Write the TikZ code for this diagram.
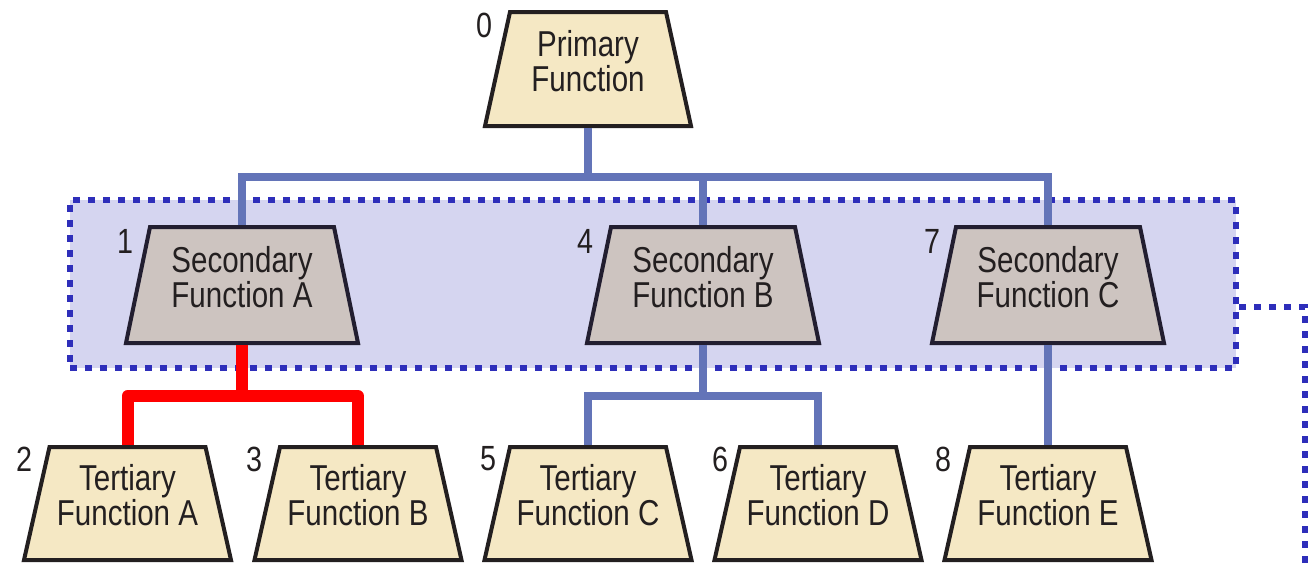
\documentclass[tikz,border=0pt]{standalone}
\usepackage{fontspec}
\setmainfont{Liberation Sans}[FakeStretch=0.82]
\usetikzlibrary{calc}
\definecolor{cream}{HTML}{F5E8C4}
\definecolor{taupe}{HTML}{CDC4C0}
\definecolor{lav}{HTML}{D5D5F0}
\definecolor{linkblue}{HTML}{6374B8}
\definecolor{dotblue}{HTML}{2E2EBA}
\definecolor{ink}{HTML}{231F20}
\definecolor{ink2}{HTML}{221E30}
\tikzset{
  frame/.style={rectangle, inner sep=0, outer sep=2},
  lightpaint/.style={line width=4, draw=ink, fill=cream},
  greypaint/.style={line width=4, draw=ink2, fill=taupe},
  fntext/.style={font=\fontsize{36}{33}\selectfont, align=center, text=ink, inner sep=0},
  num/.style={font=\fontsize{35}{35}\selectfont, text=ink, inner sep=0},
  link/.style={draw=linkblue, line width=8},
  hot/.style={draw=red, line width=12, line join=round},
  dotline/.style={draw=dotblue, line width=6, dash pattern=on 7pt off 8pt}
}
% trapezoid function box: #1 paint, #2 name, #3 centre, #4 bottom width, #5 height, #6 inset of top edge
\newcommand\fnshape[6]{%
  \node[frame, minimum width=#4+4, minimum height=#5+4] (#2) at #3 {};
  \draw[#1] ($(#2.south west)+(2,-2)$) -- ($(#2.south east)+(-2,-2)$)
    -- ($(#2.north east)+(-2-#6,2)$) -- ($(#2.north west)+(2+#6,2)$) -- cycle;
}
\begin{document}
\begin{tikzpicture}[x=1pt,y=-1pt]
\useasboundingbox (0,0) rectangle (1308,562);

% group frame around the secondary functions
\node[dotline, fill=lav, minimum width=1166, minimum height=168, inner sep=0] (grp) at (653,284) {};
\coordinate (tr) at (1305,307);
\coordinate (tend) at (1305,580);
\draw[dotline] ($(grp.east)+(0,23)$) -- (tr) -- (tend);

% primary
\fnshape{lightpaint}{p}{(588,69)}{202}{110}{25}
\node[fntext] (pt) at (588,61) {Primary\\Function};
\node[num] (n0) at (484,25) {0};

% secondary
\fnshape{greypaint}{sa}{(242,285)}{228}{112}{24}
\fnshape{greypaint}{sb}{(703,285)}{228}{112}{24}
\fnshape{greypaint}{sc}{(1048,285)}{228}{112}{24}
\node[fntext] (sat) at (242,277) {Secondary\\Function A};
\node[fntext] (sbt) at (703,277) {Secondary\\Function B};
\node[fntext] (sct) at (1048,277) {Secondary\\Function C};
\node[num] (n1) at (125,241) {1};
\node[num] (n4) at (585,241) {4};
\node[num] (n7) at (932,241) {7};

% tertiary
\fnshape{lightpaint}{ta}{(127.5,503.5)}{203}{109}{25.5}
\fnshape{lightpaint}{tb}{(358,503.5)}{203}{109}{25.5}
\fnshape{lightpaint}{tc}{(588,503.5)}{203}{109}{25.5}
\fnshape{lightpaint}{td}{(818,503.5)}{203}{109}{25.5}
\fnshape{lightpaint}{te}{(1048,503.5)}{203}{109}{25.5}
\node[fntext] (tat) at (127.5,495) {Tertiary\\Function A};
\node[fntext] (tbt) at (358,495) {Tertiary\\Function B};
\node[fntext] (tct) at (588,495) {Tertiary\\Function C};
\node[fntext] (tdt) at (818,495) {Tertiary\\Function D};
\node[fntext] (tet) at (1048,495) {Tertiary\\Function E};
\node[num] (n2) at (24,459) {2};
\node[num] (n3) at (254,459) {3};
\node[num] (n5) at (488,459) {5};
\node[num] (n6) at (720,459) {6};
\node[num] (n8) at (943,459) {8};

% connectors
\coordinate (bus) at (588,177);
\draw[link] (p.south) -- (bus);
\draw[link] (sa.north) |- (bus) -| (sc.north);
\draw[link] (sb.north) -- (sb.north |- bus);

\coordinate (ja) at (242,396);
\draw[hot] (ta.north) |- (ja) -| (tb.north);
\draw[hot] (sa.south) -- (ja);

\coordinate (jb) at (703,396);
\draw[link] (tc.north) |- (jb) -| (td.north);
\draw[link] (sb.south) -- (jb);
\draw[link] (sc.south) -- (te.north);
\end{tikzpicture}
\end{document}
